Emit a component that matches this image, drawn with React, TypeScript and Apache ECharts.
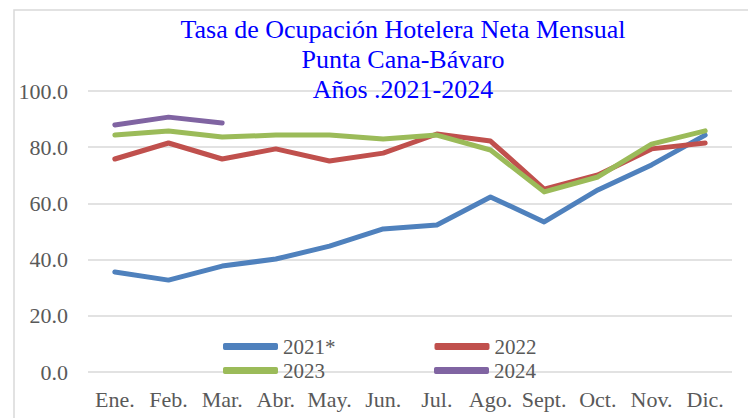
import React, { useEffect, useRef } from "react";
import * as echarts from "echarts";

const months = ["Ene.", "Feb.", "Mar.", "Abr.", "May.", "Jun.", "Jul.", "Ago.", "Sept.", "Oct.", "Nov.", "Dic."];
const s2021 = [35.6, 32.7, 37.7, 40.2, 44.8, 50.9, 52.3, 62.3, 53.4, 64.8, 73.7, 84.3];
const s2022 = [75.8, 81.5, 75.8, 79.4, 75.1, 77.9, 84.7, 82.2, 65.1, 70.1, 79.4, 81.5];
const s2023 = [84.3, 85.8, 83.6, 84.3, 84.3, 82.9, 84.3, 79.0, 64.1, 69.4, 81.1, 85.8];
const s2024 = [87.9, 90.7, 88.6];
const seriesNames = ["2021*", "2022", "2023", "2024"];
const colors = ["#4f81bd", "#c0504d", "#9bbb59", "#8064a2"];
const titleLines = ["Tasa de Ocupación Hotelera Neta Mensual", "Punta Cana-Bávaro", "Años .2021-2024"];

const FONT = "Liberation Serif";

export default function App() {
  const ref = useRef<HTMLDivElement>(null);
  useEffect(() => {
    if (!ref.current) return;
    const chart = echarts.init(ref.current, null, { renderer: "svg" });
    const data = [s2021, s2022, s2023, s2024];
    chart.setOption({
      animation: false,
      backgroundColor: "#ffffff",
      textStyle: { fontFamily: FONT },
      graphic: [
        {
          type: "rect",
          shape: { x: 14, y: 10, width: 760, height: 430 },
          style: { fill: "none", stroke: "#d9d9d9", lineWidth: 1.5 },
          silent: true,
        },
      ],
      title: {
        text: titleLines.join("\n"),
        left: 398,
        top: 9,
        textAlign: "center",
        textStyle: {
          color: "#0000ff",
          fontSize: 26,
          lineHeight: 30,
          fontFamily: FONT,
          fontWeight: "normal",
        },
        z: 10,
      },
      legend: [
        {
          data: [seriesNames[0], seriesNames[1]],
          left: 218,
          top: 331,
          itemWidth: 55,
          itemHeight: 7,
          itemGap: 99,
          icon: "roundRect",
          textStyle: { fontFamily: FONT, fontSize: 21, color: "#595959", padding: [14, 0, 0, 0] },
        },
        {
          data: [seriesNames[2], seriesNames[3]],
          left: 218,
          top: 355,
          itemWidth: 55,
          itemHeight: 7,
          itemGap: 109,
          icon: "roundRect",
          textStyle: { fontFamily: FONT, fontSize: 21, color: "#595959", padding: [10, 0, 0, 0] },
        },
      ],
      grid: { left: 88, right: 16, top: 91, bottom: 46, containLabel: false },
      xAxis: {
        type: "category",
        data: months,
        boundaryGap: true,
        axisLine: { show: false },
        axisTick: { show: false },
        axisLabel: { fontFamily: FONT, fontSize: 22, color: "#595959", margin: 16, interval: 0, hideOverlap: false },
      },
      yAxis: {
        type: "value",
        min: 0,
        max: 100,
        interval: 20,
        axisLine: { show: false },
        axisTick: { show: false },
        axisLabel: {
          fontFamily: FONT,
          fontSize: 22,
          color: "#595959",
          margin: 20,
          formatter: (v: number) => v.toFixed(1),
        },
        splitLine: { lineStyle: { color: "#d9d9d9", width: 1.5 } },
      },
      series: seriesNames.map((n, i) => ({
        name: n,
        type: "line",
        data: data[i],
        symbol: "none",
        lineStyle: { width: 5, color: colors[i], cap: "round", join: "round" },
        itemStyle: { color: colors[i] },
        z: i === 2 ? 3 : 2,
      })),
    });
    return () => chart.dispose();
  }, []);
  return <div ref={ref} style={{ width: 748, height: 418, position: "absolute", left: 0, top: 0 }} />;
}
